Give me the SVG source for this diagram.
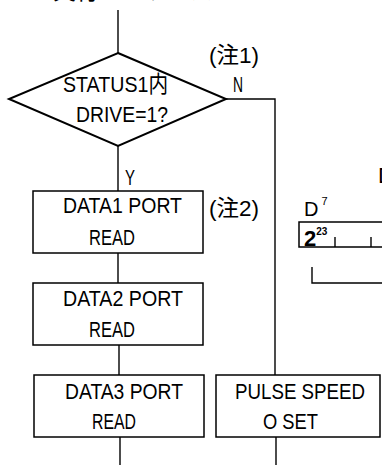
<svg xmlns="http://www.w3.org/2000/svg" width="382" height="465" viewBox="0 0 382 465">
<style>
.bg{fill:#fff}
.ln{stroke:#000;stroke-width:1.4;fill:none}
.box{stroke:#000;stroke-width:1.5;fill:#fff}
.dia{stroke:#000;stroke-width:2;fill:#fff;stroke-linejoin:miter}
.t{font-family:"Liberation Sans","Noto Sans CJK JP",sans-serif;font-size:22.5px;fill:#000}
.s{font-family:"Liberation Sans",sans-serif;fill:#000}
</style>
<rect class="bg" x="0" y="0" width="382" height="465"/>
<text class="t" x="53" y="-1" textLength="160" lengthAdjust="spacingAndGlyphs">実行シーケンス</text>
<g id="connectors">
<line class="ln" x1="118" y1="10" x2="118" y2="53"/>
<polyline class="ln" points="226,99 275,99 275,375"/>
<line class="ln" x1="118" y1="146" x2="118" y2="191"/>
<line class="ln" x1="118" y1="253" x2="118" y2="283"/>
<line class="ln" x1="119" y1="345" x2="119" y2="375"/>
<line class="ln" x1="120" y1="437" x2="120" y2="465"/>
<line class="ln" x1="276" y1="437" x2="276" y2="465"/>
<text class="t" x="125" y="185" textLength="10" lengthAdjust="spacingAndGlyphs">Y</text>
<text class="t" x="233" y="92" textLength="10" lengthAdjust="spacingAndGlyphs">N</text>
<text class="t" x="209" y="63" textLength="50" lengthAdjust="spacingAndGlyphs">(注1)</text>
<text class="t" x="209" y="216" textLength="50" lengthAdjust="spacingAndGlyphs">(注2)</text>
</g>
<g id="decision">
<polygon class="dia" points="118,53 226,99 118,146 9,99"/>
<text class="t" x="63" y="92" textLength="105" lengthAdjust="spacingAndGlyphs">STATUS1内</text>
<text class="t" x="76" y="122" textLength="92" lengthAdjust="spacingAndGlyphs">DRIVE=1?</text>
</g>
<g id="data1">
<rect class="box" x="33" y="191" width="170" height="62"/>
<text class="t" x="63" y="213" textLength="119" lengthAdjust="spacingAndGlyphs">DATA1 PORT</text>
<text class="t" x="89" y="245" textLength="46" lengthAdjust="spacingAndGlyphs">READ</text>
</g>
<g id="data2">
<rect class="box" x="33" y="283" width="170" height="62"/>
<text class="t" x="63" y="306" textLength="120" lengthAdjust="spacingAndGlyphs">DATA2 PORT</text>
<text class="t" x="89" y="337" textLength="46" lengthAdjust="spacingAndGlyphs">READ</text>
</g>
<g id="data3">
<rect class="box" x="34" y="375" width="170" height="62"/>
<text class="t" x="65" y="399" textLength="118" lengthAdjust="spacingAndGlyphs">DATA3 PORT</text>
<text class="t" x="92" y="429" textLength="44" lengthAdjust="spacingAndGlyphs">READ</text>
</g>
<g id="pulse">
<rect class="box" x="216" y="375" width="164" height="62"/>
<text class="t" x="235" y="399" textLength="130" lengthAdjust="spacingAndGlyphs">PULSE SPEED</text>
<text class="t" x="263" y="429" textLength="55" lengthAdjust="spacingAndGlyphs">O SET</text>
</g>
<g id="register">
<text class="t" x="378" y="183">D</text>
<text class="s" x="304" y="216" font-size="20">D<tspan dx="3" dy="-11" font-size="11">7</tspan></text>
<polyline class="box" points="384,222 299,222 299,247 384,247" style="fill:none"/>
<text class="s" x="304" y="246" font-size="22" font-weight="bold">2<tspan dy="-11" font-size="10">23</tspan></text>
<line class="ln" x1="335" y1="237" x2="335" y2="247"/>
<line class="ln" x1="371" y1="237" x2="371" y2="247"/>
<polyline class="ln" points="312,267 312,283 384,283"/>
</g>
</svg>
